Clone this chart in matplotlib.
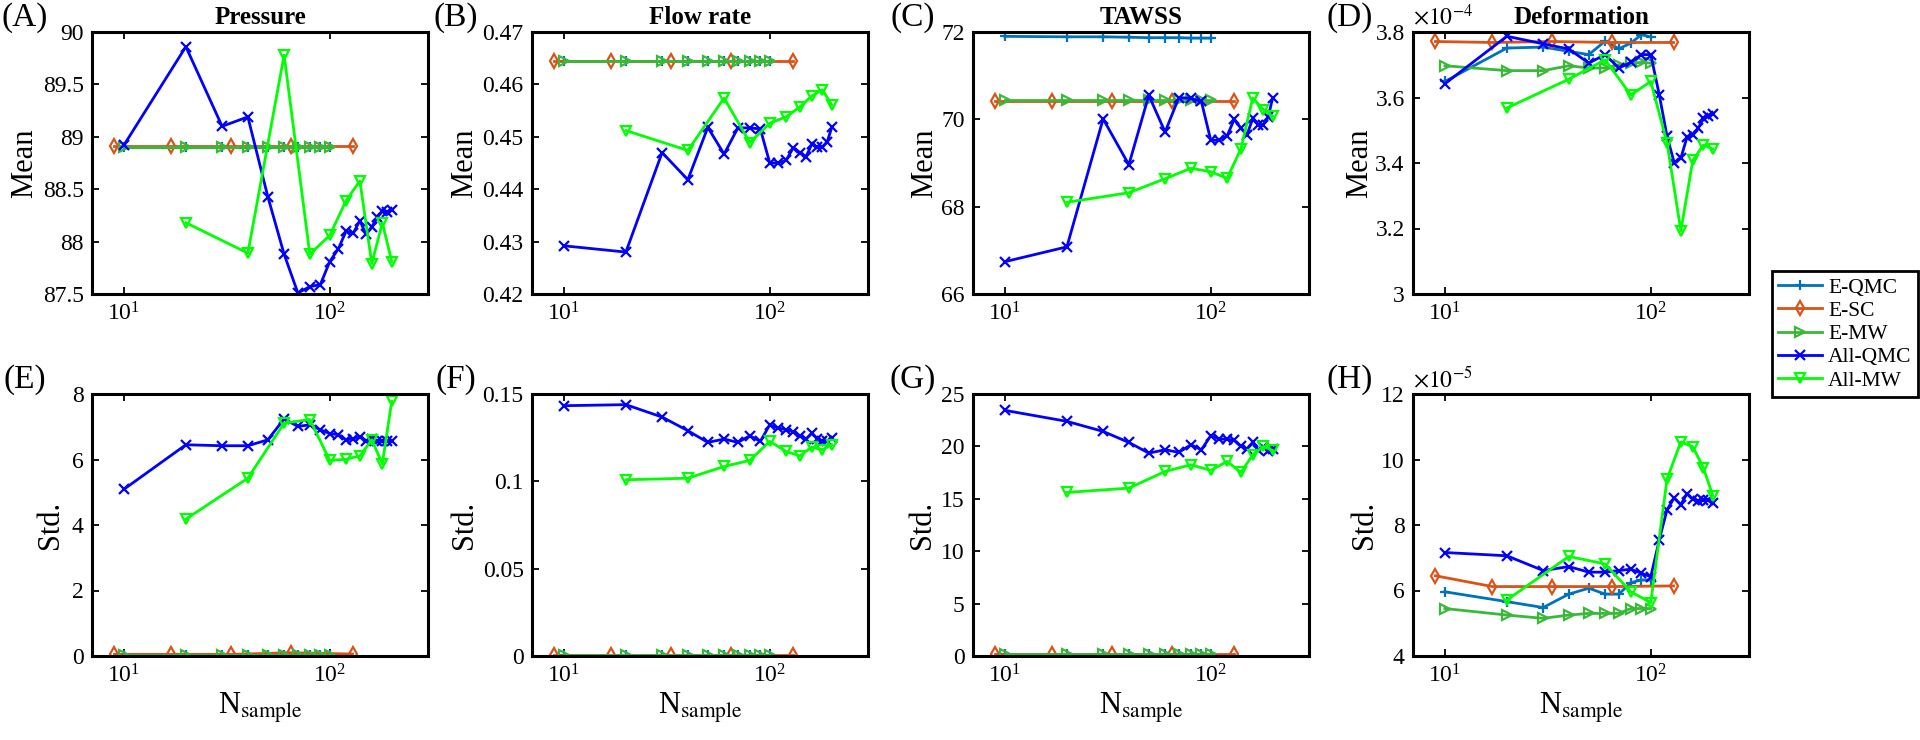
import matplotlib.pyplot as plt
from matplotlib import ticker

plt.rcParams['font.family'] = ['Liberation Serif', 'DejaVu Serif']
plt.rcParams['mathtext.fontset'] = 'stix'

# sample counts for each method
n_eqmc = [10, 20, 30, 40, 50, 60, 70, 80, 90, 100]
n_esc = [9, 17, 33, 65, 129]
n_emw = [10, 20, 30, 40, 50, 60, 70, 80, 90, 100]
n_allqmc = [10, 20, 30, 40, 50, 60, 70, 80, 90, 100,
            110, 120, 130, 140, 150, 160, 170, 180, 190, 200]
n_allmw = [20, 40, 60, 80, 100, 120, 140, 160, 180, 200]

# ---- Mean ----
pressure_mean_eqmc = [88.905, 88.905, 88.905, 88.905, 88.905, 88.905, 88.905, 88.905, 88.905, 88.905]
pressure_mean_esc = [88.91, 88.91, 88.91, 88.91, 88.91]
pressure_mean_emw = [88.905, 88.905, 88.905, 88.905, 88.905, 88.905, 88.905, 88.905, 88.905, 88.905]
pressure_mean_allqmc = [88.92, 89.86, 89.10, 89.19, 88.43, 87.88, 87.51, 87.57, 87.59, 87.81,
                        87.93, 88.10, 88.08, 88.20, 88.07, 88.14, 88.23, 88.29, 88.28, 88.30]
pressure_mean_allmw = [88.18, 87.89, 89.78, 87.88, 88.06, 88.39, 88.58, 87.79, 88.18, 87.81]

flow_mean_eqmc = [0.4645, 0.4645, 0.4645, 0.4645, 0.4645, 0.4645, 0.4645, 0.4645, 0.4645, 0.4645]
flow_mean_esc = [0.4645, 0.4645, 0.4645, 0.4645, 0.4645]
flow_mean_emw = [0.4645, 0.4645, 0.4645, 0.4645, 0.4645, 0.4645, 0.4645, 0.4645, 0.4645, 0.4645]
flow_mean_allqmc = [0.4292, 0.4280, 0.4470, 0.4418, 0.4518, 0.4467, 0.4517, 0.4517, 0.4515, 0.4450,
                    0.4450, 0.4455, 0.4479, 0.4470, 0.4462, 0.4486, 0.4480, 0.4480, 0.4490, 0.4518]
flow_mean_allmw = [0.4512, 0.4474, 0.4574, 0.4489, 0.4526, 0.4538, 0.4557, 0.4578, 0.4590, 0.4561]

tawss_mean_eqmc = [71.90, 71.89, 71.89, 71.88, 71.87, 71.87, 71.87, 71.86, 71.86, 71.86]
tawss_mean_esc = [70.43, 70.43, 70.43, 70.43, 70.43]
tawss_mean_emw = [70.45, 70.45, 70.45, 70.45, 70.45, 70.45, 70.45, 70.45, 70.45, 70.45]
tawss_mean_allqmc = [66.74, 67.08, 70.01, 68.96, 70.55, 69.71, 70.50, 70.48, 70.41, 69.52,
                     69.52, 69.62, 70.00, 69.80, 69.65, 70.02, 69.88, 69.88, 70.05, 70.50]
tawss_mean_allmw = [68.10, 68.32, 68.64, 68.88, 68.80, 68.65, 69.32, 70.49, 70.22, 70.07]

# deformation in units of 1e-4
deform_mean_eqmc = [3.649, 3.751, 3.754, 3.741, 3.731, 3.772, 3.749, 3.766, 3.792, 3.785]
deform_mean_esc = [3.771, 3.768, 3.771, 3.768, 3.768]
deform_mean_emw = [3.697, 3.682, 3.682, 3.697, 3.690, 3.690, 3.700, 3.705, 3.707, 3.705]
deform_mean_allqmc = [3.642, 3.787, 3.764, 3.748, 3.705, 3.731, 3.690, 3.707, 3.731, 3.731,
                      3.608, 3.481, 3.401, 3.415, 3.479, 3.486, 3.506, 3.537, 3.542, 3.549]
deform_mean_allmw = [3.568, 3.656, 3.715, 3.608, 3.649, 3.461, 3.193, 3.408, 3.455, 3.443]

# ---- Std ----
pressure_std_eqmc = [0.03, 0.03, 0.03, 0.03, 0.03, 0.03, 0.03, 0.03, 0.03, 0.03]
pressure_std_esc = [0.05, 0.05, 0.05, 0.10, 0.06]
pressure_std_emw = [0.03, 0.03, 0.03, 0.03, 0.03, 0.03, 0.03, 0.03, 0.03, 0.03]
pressure_std_allqmc = [5.09, 6.45, 6.42, 6.42, 6.60, 7.24, 7.01, 7.06, 6.91, 6.79,
                       6.76, 6.60, 6.63, 6.69, 6.58, 6.62, 6.58, 6.58, 6.57, 6.57]
pressure_std_allmw = [4.18, 5.43, 7.11, 7.22, 5.97, 6.01, 6.11, 6.60, 5.87, 7.78]

flow_std_eqmc = [0.0003, 0.0003, 0.0003, 0.0003, 0.0003, 0.0003, 0.0003, 0.0003, 0.0003, 0.0003]
flow_std_esc = [0.0003, 0.0003, 0.0003, 0.0003, 0.0003]
flow_std_emw = [0.0003, 0.0003, 0.0003, 0.0003, 0.0003, 0.0003, 0.0003, 0.0003, 0.0003, 0.0003]
flow_std_allqmc = [0.1433, 0.1439, 0.1368, 0.1290, 0.1223, 0.1242, 0.1223, 0.1261, 0.1229, 0.1324,
                   0.1305, 0.1296, 0.1285, 0.1261, 0.1242, 0.1276, 0.1245, 0.1229, 0.1229, 0.1248]
flow_std_allmw = [0.1009, 0.1018, 0.1085, 0.1120, 0.1229, 0.1171, 0.1146, 0.1196, 0.1181, 0.1210]

tawss_std_eqmc = [0.15, 0.15, 0.15, 0.15, 0.15, 0.15, 0.15, 0.15, 0.15, 0.15]
tawss_std_esc = [0.15, 0.15, 0.15, 0.15, 0.15]
tawss_std_emw = [0.15, 0.15, 0.15, 0.15, 0.15, 0.15, 0.15, 0.15, 0.15, 0.15]
tawss_std_allqmc = [23.44, 22.39, 21.43, 20.38, 19.36, 19.68, 19.43, 20.16, 19.68, 21.02,
                    20.70, 20.70, 20.57, 20.00, 19.75, 20.38, 19.68, 19.94, 19.52, 19.75]
tawss_std_allmw = [15.61, 16.02, 17.61, 18.25, 17.71, 18.57, 17.52, 19.20, 20.00, 19.62]

# deformation std in units of 1e-5
deform_std_eqmc = [5.96, 5.66, 5.48, 5.89, 6.07, 5.89, 5.89, 6.24, 6.32, 6.32]
deform_std_esc = [6.45, 6.12, 6.12, 6.12, 6.14]
deform_std_emw = [5.45, 5.25, 5.15, 5.25, 5.30, 5.30, 5.30, 5.45, 5.45, 5.45]
deform_std_allqmc = [7.16, 7.06, 6.61, 6.73, 6.56, 6.56, 6.61, 6.65, 6.53, 6.42,
                     7.55, 8.47, 8.83, 8.62, 8.96, 8.78, 8.73, 8.76, 8.75, 8.68]
deform_std_allmw = [5.71, 7.04, 6.81, 5.96, 5.63, 9.41, 10.54, 10.39, 9.75, 8.90]

labels = ['E-QMC', 'E-SC', 'E-MW', 'All-QMC', 'All-MW']
colors = ['#0072BD', '#D95319', '#3AB83A', '#0000FF', '#00FF00']
markers = ['+', 'd', '>', 'x', 'v']
xs = [n_eqmc, n_esc, n_emw, n_allqmc, n_allmw]

panels = [
    ('(A)', 'Pressure', 'Mean', [pressure_mean_eqmc, pressure_mean_esc, pressure_mean_emw, pressure_mean_allqmc, pressure_mean_allmw], (87.5, 90), 0.5, None),
    ('(B)', 'Flow rate', 'Mean', [flow_mean_eqmc, flow_mean_esc, flow_mean_emw, flow_mean_allqmc, flow_mean_allmw], (0.42, 0.47), 0.01, None),
    ('(C)', 'TAWSS', 'Mean', [tawss_mean_eqmc, tawss_mean_esc, tawss_mean_emw, tawss_mean_allqmc, tawss_mean_allmw], (66, 72), 2, None),
    ('(D)', 'Deformation', 'Mean', [deform_mean_eqmc, deform_mean_esc, deform_mean_emw, deform_mean_allqmc, deform_mean_allmw], (3, 3.8), 0.2, r'$\times 10^{-4}$'),
    ('(E)', None, 'Std.', [pressure_std_eqmc, pressure_std_esc, pressure_std_emw, pressure_std_allqmc, pressure_std_allmw], (0, 8), 2, None),
    ('(F)', None, 'Std.', [flow_std_eqmc, flow_std_esc, flow_std_emw, flow_std_allqmc, flow_std_allmw], (0, 0.15), 0.05, None),
    ('(G)', None, 'Std.', [tawss_std_eqmc, tawss_std_esc, tawss_std_emw, tawss_std_allqmc, tawss_std_allmw], (0, 25), 5, None),
    ('(H)', None, 'Std.', [deform_std_eqmc, deform_std_esc, deform_std_emw, deform_std_allqmc, deform_std_allmw], (4, 12), 2, r'$\times 10^{-5}$'),
]

W, H = 1920, 740
fig = plt.figure(figsize=(19.2, 7.4), dpi=100)

col_left = [92, 532, 973, 1413]
col_width = 336
row_top = [32, 394]
row_height = 262
label_x = [25, 456, 913, 1350]
# right edge of the (rotated) y label box, in pixels
ylabel_x = [[39, 479, 939, 1374], [65, 479, 937, 1379]]

axes = []
for i, (tag, title, ylab, series, ylim, ystep, expo) in enumerate(panels):
    r, c = divmod(i, 4)
    ax = fig.add_axes([col_left[c] / W, 1 - (row_top[r] + row_height) / H,
                       col_width / W, row_height / H])
    for x, y, lab, col, mk in zip(xs, series, labels, colors, markers):
        ax.plot(x, y, color=col, marker=mk, label=lab, lw=2, ms=7,
                mew=1.6, mfc='none')
    ax.set_xscale('log')
    ax.set_xlim(7, 300)
    ax.set_xticks([10, 100])
    ax.xaxis.set_major_formatter(ticker.LogFormatterSciNotation())
    ax.minorticks_off()
    ax.set_ylim(*ylim)
    ax.yaxis.set_major_locator(ticker.MultipleLocator(ystep))
    ax.yaxis.set_major_formatter(ticker.FormatStrFormatter('%g'))
    ax.tick_params(direction='in', length=5, width=1.3, labelsize=17,
                   top=True, right=True, pad=6)
    for s in ax.spines.values():
        s.set_linewidth(2.2)
    ax.set_ylabel(ylab, fontsize=22)
    ax.yaxis.set_label_coords((ylabel_x[r][c] - col_left[c]) / col_width, 0.5)
    if title:
        ax.set_title(title, fontsize=18, fontweight='bold', pad=6)
    if r == 1:
        ax.set_xlabel(r'N$_{\mathrm{sample}}$', fontsize=22, labelpad=2)
    if expo:
        ax.text(0.0, 1.01, expo, transform=ax.transAxes, ha='left', va='bottom',
                fontsize=17)
    fig.text(label_x[c] / W, 1 - (row_top[r] - 14) / H, tag, fontsize=24,
             ha='center', va='center')
    axes.append(ax)

h, l = axes[3].get_legend_handles_labels()
leg = fig.legend(h, l, loc='upper left', bbox_to_anchor=(1772 / W, 1 - 271 / H),
                 fontsize=15.5, frameon=True, fancybox=False, edgecolor='black',
                 framealpha=1, handlelength=2.0, handletextpad=0.3,
                 labelspacing=0.15, borderpad=0.3, borderaxespad=0)
leg.get_frame().set_linewidth(2)

fig.savefig('out.png', dpi=100)
